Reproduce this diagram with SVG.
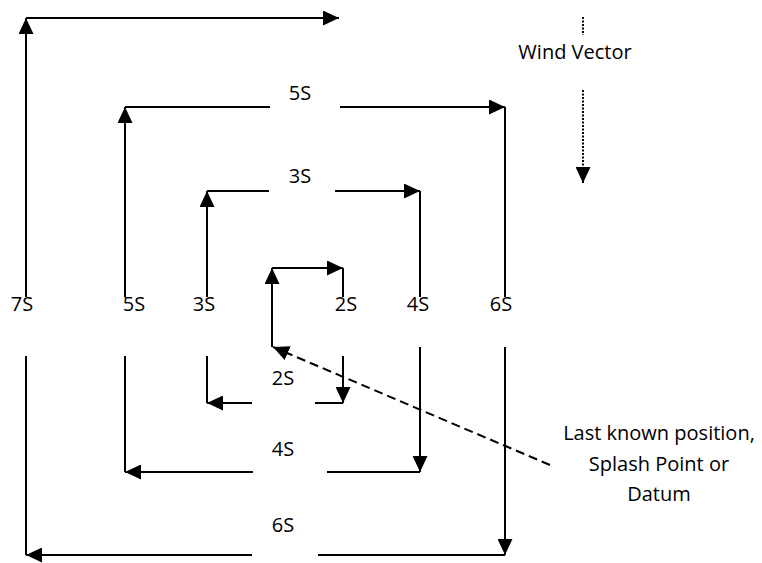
<svg xmlns="http://www.w3.org/2000/svg" width="762" height="563" viewBox="0 0 762 563">
<style>
.ln{fill:none;stroke:#000;stroke-width:2;stroke-linecap:butt}
.ar{marker-end:url(#ah)}
.dash{stroke-dasharray:9 5}
.dot{stroke-dasharray:2 1.5}
text{font-family:"Open Sans","DejaVu Sans",sans-serif;font-size:20px;fill:#000;text-anchor:middle}
</style>
<defs>
<marker id="ah" viewBox="0 0 16 15" refX="16" refY="7.5" markerWidth="16" markerHeight="15" markerUnits="userSpaceOnUse" orient="auto">
<path d="M0,0 L16,7.5 L0,15 z" fill="#000"/>
</marker>
</defs>
<rect width="762" height="563" fill="#fff"/>
<g id="connectors">
<!-- 7S / outer -->
<path class="ln ar" d="M26,297 L26,18"/>
<path class="ln ar" d="M26,18 L339,18"/>
<!-- 5S top -->
<path class="ln ar" d="M125,297 L125,107"/>
<path class="ln" d="M125,107 L270,107"/>
<path class="ln ar" d="M340,107 L505,107"/>
<path class="ln" d="M505,107 L505,297"/>
<!-- 6S lower -->
<path class="ln ar" d="M505,347 L505,555"/>
<path class="ln" d="M505,555 L318,555"/>
<path class="ln ar" d="M252,555 L26,555"/>
<path class="ln" d="M26,555 L26,356"/>
<!-- 3S top -->
<path class="ln ar" d="M207,297 L207,191"/>
<path class="ln" d="M207,191 L269,191"/>
<path class="ln ar" d="M335,191 L420,191"/>
<path class="ln" d="M420,191 L420,297"/>
<!-- 4S lower -->
<path class="ln ar" d="M420,347 L420,472"/>
<path class="ln" d="M420,472 L327,472"/>
<path class="ln ar" d="M253,472 L125,472"/>
<path class="ln" d="M125,472 L125,356"/>
<!-- inner 2S -->
<path class="ln ar" d="M272,347 L272,268"/>
<path class="ln ar" d="M272,268 L343,268"/>
<path class="ln" d="M343,268 L343,297"/>
<!-- 2S lower -->
<path class="ln ar" d="M343,356 L343,403"/>
<path class="ln" d="M343,403 L315,403"/>
<path class="ln ar" d="M252,403 L207,403"/>
<path class="ln" d="M207,403 L207,356"/>
<!-- datum pointer -->
<path class="ln dash ar" d="M550,465 L273,347"/>
<!-- wind vector -->
<path class="ln dot" d="M583,17 L583,35"/>
<path class="ln dot ar" d="M583,90 L583,183"/>
</g>
<g id="label-7S"><text x="22" y="311">7S</text></g>
<g id="label-5S-left"><text x="134" y="311">5S</text></g>
<g id="label-3S-left"><text x="204" y="311">3S</text></g>
<g id="label-2S-right"><text x="346" y="311">2S</text></g>
<g id="label-4S-right"><text x="418" y="311">4S</text></g>
<g id="label-6S-right"><text x="501" y="311">6S</text></g>
<g id="label-5S-top"><text x="300" y="100">5S</text></g>
<g id="label-3S-top"><text x="300" y="183">3S</text></g>
<g id="label-2S-bottom"><text x="283" y="385">2S</text></g>
<g id="label-4S-bottom"><text x="283" y="456">4S</text></g>
<g id="label-6S-bottom"><text x="283" y="532">6S</text></g>
<g id="wind-vector"><text x="575" y="59">Wind Vector</text></g>
<g id="datum-label">
<text x="659" y="440">Last known position,</text>
<text x="659" y="471">Splash Point or</text>
<text x="659" y="501">Datum</text>
</g>
</svg>
